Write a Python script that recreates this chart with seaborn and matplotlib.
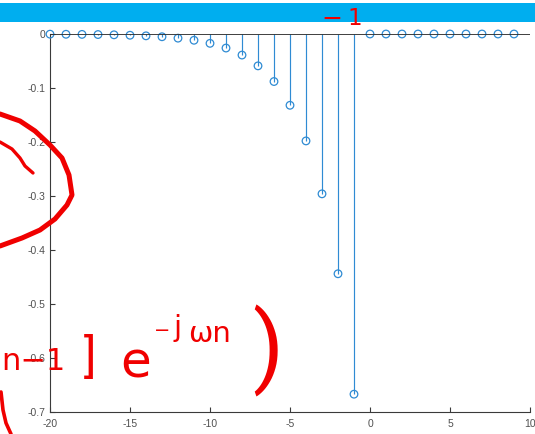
import matplotlib
matplotlib.use("Agg")
import matplotlib.pyplot as plt
from matplotlib.lines import Line2D
from matplotlib.patches import Rectangle
import seaborn as sns
import pandas as pd

# Sequence x[n] for n = -20 .. 9
n = list(range(-20, 10))
x_vals = [-0.0003, -0.0005, -0.0007, -0.001, -0.0015, -0.0023, -0.0034, -0.0051,
          -0.0077, -0.0116, -0.0173, -0.026, -0.039, -0.059, -0.088, -0.132,
          -0.198, -0.296, -0.444, -0.667,
          0, 0, 0, 0, 0, 0, 0, 0, 0, 0]
y_ticks = [0, -0.1, -0.2, -0.3, -0.4, -0.5, -0.6, -0.7]
y_tick_labels = ["0", "-0.1", "-0.2", "-0.3", "-0.4", "-0.5", "-0.6", "-0.7"]
x_ticks = [-20, -15, -10, -5, 0, 5, 10]
x_tick_labels = ["-20", "-15", "-10", "-5", "0", "5", "10"]

df = pd.DataFrame({"n": n, "x": x_vals})

sns.set_style("white")
plt.rcParams["font.family"] = ["Liberation Sans", "DejaVu Sans"]
plt.rcParams["axes.unicode_minus"] = False

W, H = 535, 434
fig = plt.figure(figsize=(W / 100, H / 100), dpi=100)
ax = fig.add_axes([50 / W, 1 - 412 / H, 480 / W, 378 / H])

stem_color = "#2f8bd3"
ax.vlines(df["n"], 0, df["x"], color=stem_color, linewidth=0.85, zorder=2)
sns.scatterplot(data=df, x="n", y="x", ax=ax, marker="o", color="none",
                edgecolor=stem_color, linewidth=0.9, s=30, zorder=3, legend=False,
                clip_on=False)
ax.axhline(0, color="#303030", linewidth=1.3, zorder=4)

ax.set_xlim(-20, 10)
ax.set_ylim(-0.7, 0)
ax.set_xticks(x_ticks)
ax.set_xticklabels(x_tick_labels)
ax.set_yticks(y_ticks)
ax.set_yticklabels(y_tick_labels)
ax.set_xlabel("")
ax.set_ylabel("")
for side in ("top", "right"):
    ax.spines[side].set_visible(False)
for side in ("left", "bottom"):
    ax.spines[side].set_color("#3a3a3a")
    ax.spines[side].set_linewidth(0.8)
ax.tick_params(direction="in", length=3.5, width=0.8, color="#3a3a3a",
               labelsize=7.5, labelcolor="#505050", pad=3.5)
ax.tick_params(axis="x", pad=5)
ax.tick_params(left=True, bottom=True)

# Header band
fig.patches.append(Rectangle((0, 1 - 22 / H), 1, 19 / H, transform=fig.transFigure,
                             facecolor="#00aeef", edgecolor="none", zorder=0))

red = "#f00000"


def px(points):
    xs = [p[0] / W for p in points]
    ys = [1 - p[1] / H for p in points]
    return xs, ys


def stroke(points, lw):
    xs, ys = px(points)
    fig.add_artist(Line2D(xs, ys, transform=fig.transFigure, color=red, linewidth=lw,
                          solid_capstyle="round", solid_joinstyle="round", zorder=10))


def write(s, x, y, size, family=("DejaVu Sans",), weight="normal"):
    fig.text(x / W, 1 - y / H, s, transform=fig.transFigure, color=red,
             fontsize=size, ha="center", va="baseline", fontweight=weight,
             family=list(family), zorder=10)


# Ink marks on the left
stroke([(0, 114), (20, 121), (35, 131), (50, 145), (62, 158), (69, 175),
        (72, 195), (67, 205), (55, 219), (40, 230), (22, 238), (0, 246)], 3.6)
stroke([(0, 142), (12, 149), (20, 158), (25, 166), (33, 173)], 2.4)
stroke([(1, 392), (3, 410), (6, 423), (11, 434)], 2.6)

# Handwritten formula
write("n\u22121", 33, 370, 22)
write("]", 90, 372, 34, family=("Roboto", "DejaVu Sans"))
write("e", 136, 378, 36)
write("\u2212", 162, 336, 14)
write("j", 178, 336, 21)
write("\u03c9n", 210, 342, 21)
write(")", 268, 377, 64, family=("Roboto", "DejaVu Sans"), weight="normal")
write("\u2212", 332, 26, 18)
write("1", 355, 25, 16.6)

fig.savefig("out.png", dpi=100)
